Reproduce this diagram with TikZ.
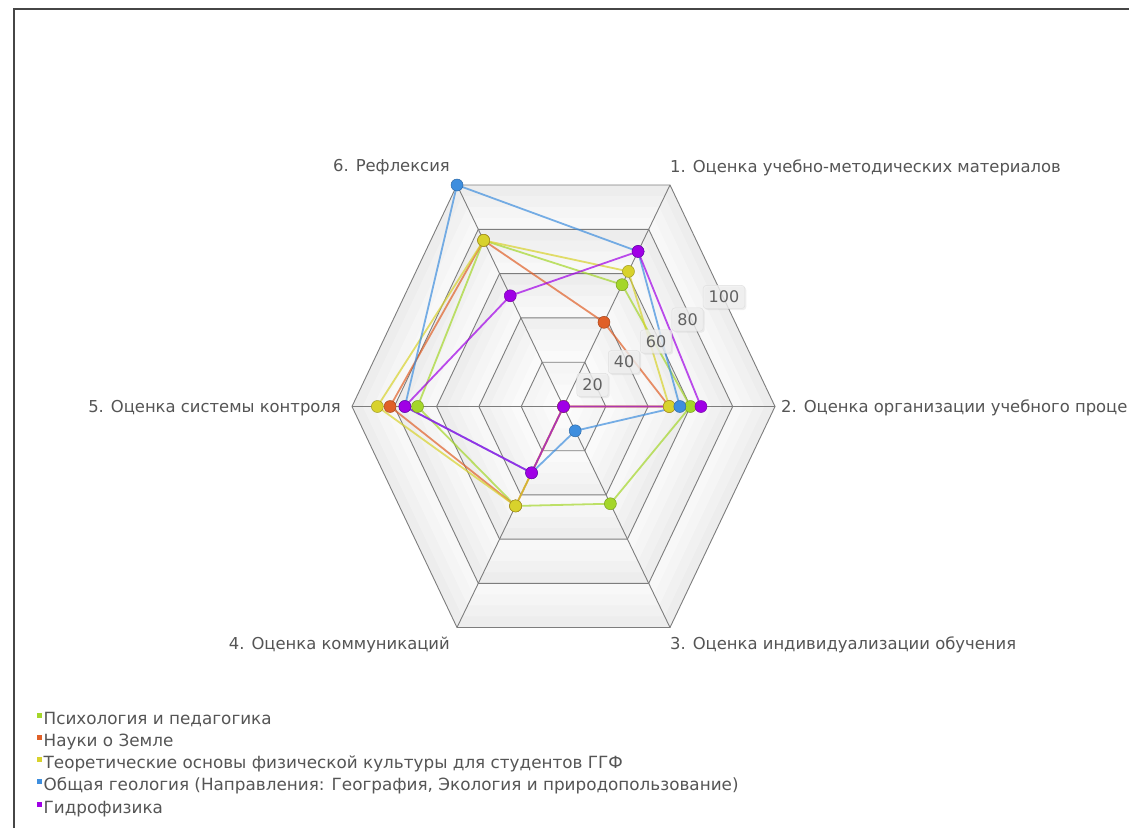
\documentclass[tikz,border=0pt]{standalone}
\usepackage{fontspec}
\setmainfont{DejaVu Sans}
\usetikzlibrary{calc,shadows}
\definecolor{cg}{RGB}{164,214,42}
\definecolor{co}{RGB}{224,96,40}
\definecolor{cy}{RGB}{216,210,44}
\definecolor{cb}{RGB}{62,142,222}
\definecolor{cp}{RGB}{160,0,230}
\definecolor{gridc}{RGB}{125,125,125}
\definecolor{txt}{RGB}{85,85,85}
\definecolor{framec}{RGB}{70,70,70}
\begin{document}
\begin{tikzpicture}[x=1pt,y=-1pt,
  gridline/.style={draw=gridc,line width=0.9pt},
  serline/.style={line width=1.8pt,draw=#1,draw opacity=0.7,line join=round},
  dot/.style={circle,fill=#1,draw=#1!75!black,line width=0.5pt,inner sep=0pt,minimum size=12pt},
  axlab/.style={text=txt,font=\fontsize{16.4}{19}\selectfont,inner sep=0pt},
  vallab/.style={rounded corners=3pt,fill=black!6,fill opacity=0.8,text opacity=1,draw=black!12,line width=0.5pt,text=black!62,font=\fontsize{16}{19}\selectfont,inner xsep=5.5pt,inner ysep=5.5pt,drop shadow={opacity=0.12,shadow xshift=1.5pt,shadow yshift=-1.5pt}},
  legsq/.style={fill=#1,minimum size=5pt,inner sep=0pt},
  legtxt/.style={text=txt,font=\fontsize{16.8}{19}\selectfont,inner sep=0pt,anchor=base west}
]
\useasboundingbox (0,0) rectangle (1129,828);
\fill[white] (0,0) rectangle (1129,828);
% frame
\draw[framec,line width=2.2pt] (13.8,828) -- (13.8,8.7) -- (1129,8.7);
% geometry
\coordinate (C) at (563.5,406.5);
\coordinate (V1) at (670,185);
\coordinate (V2) at (775,406.5);
\coordinate (V3) at (670,627.5);
\coordinate (V4) at (457,627.5);
\coordinate (V5) at (352,406.5);
\coordinate (V6) at (457,185);
% band fills
\foreach \r/\c in {1.00/7,0.95/5.5,0.90/4,0.85/2.8,
                   0.80/7,0.75/5.5,0.70/4,0.65/2.8,
                   0.60/7,0.55/5.5,0.50/4,0.45/2.8,
                   0.40/6,0.35/4.5,0.30/3,0.25/2,
                   0.20/4,0.15/3,0.10/2,0.05/1}{
  \fill[black!\c] ($(C)!\r!(V1)$) -- ($(C)!\r!(V2)$) -- ($(C)!\r!(V3)$) -- ($(C)!\r!(V4)$) -- ($(C)!\r!(V5)$) -- ($(C)!\r!(V6)$) -- cycle;
}
% rings
\foreach \r in {0.2,0.4,0.6,0.8,1.0}{
  \draw[gridline] ($(C)!\r!(V1)$) -- ($(C)!\r!(V2)$) -- ($(C)!\r!(V3)$) -- ($(C)!\r!(V4)$) -- ($(C)!\r!(V5)$) -- ($(C)!\r!(V6)$) -- cycle;
}
% spokes
\foreach \i in {1,...,6}{ \draw[gridline] (C) -- (V\i); }
% data coordinates
\foreach \i/\v in {1/55,2/60,3/44,4/45,5/69,6/75}{\pgfmathsetmacro\f{\v/100}\coordinate (g\i) at ($(C)!\f!(V\i)$);}
\foreach \i/\v in {1/38,2/50,3/0,4/45,5/82,6/75}{\pgfmathsetmacro\f{\v/100}\coordinate (o\i) at ($(C)!\f!(V\i)$);}
\foreach \i/\v in {1/61,2/50,3/0,4/45,5/88,6/75}{\pgfmathsetmacro\f{\v/100}\coordinate (y\i) at ($(C)!\f!(V\i)$);}
\foreach \i/\v in {1/70,2/55,3/11,4/30,5/75,6/100}{\pgfmathsetmacro\f{\v/100}\coordinate (b\i) at ($(C)!\f!(V\i)$);}
\foreach \i/\v in {1/70,2/65,3/0,4/30,5/75,6/50}{\pgfmathsetmacro\f{\v/100}\coordinate (p\i) at ($(C)!\f!(V\i)$);}
% series lines
\draw[serline=cg] (g1)--(g2)--(g3)--(g4)--(g5)--(g6)--cycle;
\draw[serline=co] (o1)--(o2)--(o3)--(o4)--(o5)--(o6)--cycle;
\draw[serline=cy] (y1)--(y2)--(y3)--(y4)--(y5)--(y6)--cycle;
\draw[serline=cb] (b1)--(b2)--(b3)--(b4)--(b5)--(b6)--cycle;
\draw[serline=cp] (p1)--(p2)--(p3)--(p4)--(p5)--(p6)--cycle;
% markers
\foreach \i in {1,...,6}{\node[dot=cg] (gm\i) at (g\i) {};}
\foreach \i in {1,...,6}{\node[dot=co] (om\i) at (o\i) {};}
\foreach \i in {1,...,6}{\node[dot=cy] (ym\i) at (y\i) {};}
\foreach \i in {1,...,6}{\node[dot=cb] (bm\i) at (b\i) {};}
\foreach \i in {1,...,6}{\node[dot=cp] (pm\i) at (p\i) {};}
% value labels
\node[vallab] (t20) at (592.5,385) {20};
\node[vallab] (t40) at (624,362) {40};
\node[vallab] (t60) at (656,341.5) {60};
\node[vallab] (t80) at (687.5,319.5) {80};
\node[vallab] (t100) at (724,297) {100};
% axis labels
\node[axlab,anchor=base west] (L1) at (670,172) {1. Оценка учебно-методических материалов};
\node[axlab,anchor=base west] (L2) at (781,412) {2. Оценка организации учебного проце};
\node[axlab,anchor=base west] (L3) at (670,649) {3. Оценка индивидуализации обучения};
\node[axlab,anchor=base east] (L4) at (450,649) {4. Оценка коммуникаций};
\node[axlab,anchor=base east] (L5) at (341,412) {5. Оценка системы контроля};
\node[axlab,anchor=base east] (L6) at (450,171.5) {6. Рефлексия};
% legend
\node[legsq=cg] (s1) at (39.7,715) {};
\node[legsq=co] (s2) at (39.7,737.25) {};
\node[legsq=cy] (s3) at (39.7,759.5) {};
\node[legsq=cb] (s4) at (39.7,781.75) {};
\node[legsq=cp] (s5) at (39.7,804) {};
\node[legtxt] (e1) at (43.5,724) {Психология и педагогика};
\node[legtxt] (e2) at (43.5,746.25) {Науки о Земле};
\node[legtxt] (e3) at (43.5,768.5) {Теоретические основы физической культуры для студентов ГГФ};
\node[legtxt] (e4) at (43.5,790.75) {Общая геология (Направления: География, Экология и природопользование)};
\node[legtxt] (e5) at (43.5,813) {Гидрофизика};
\end{tikzpicture}
\end{document}
